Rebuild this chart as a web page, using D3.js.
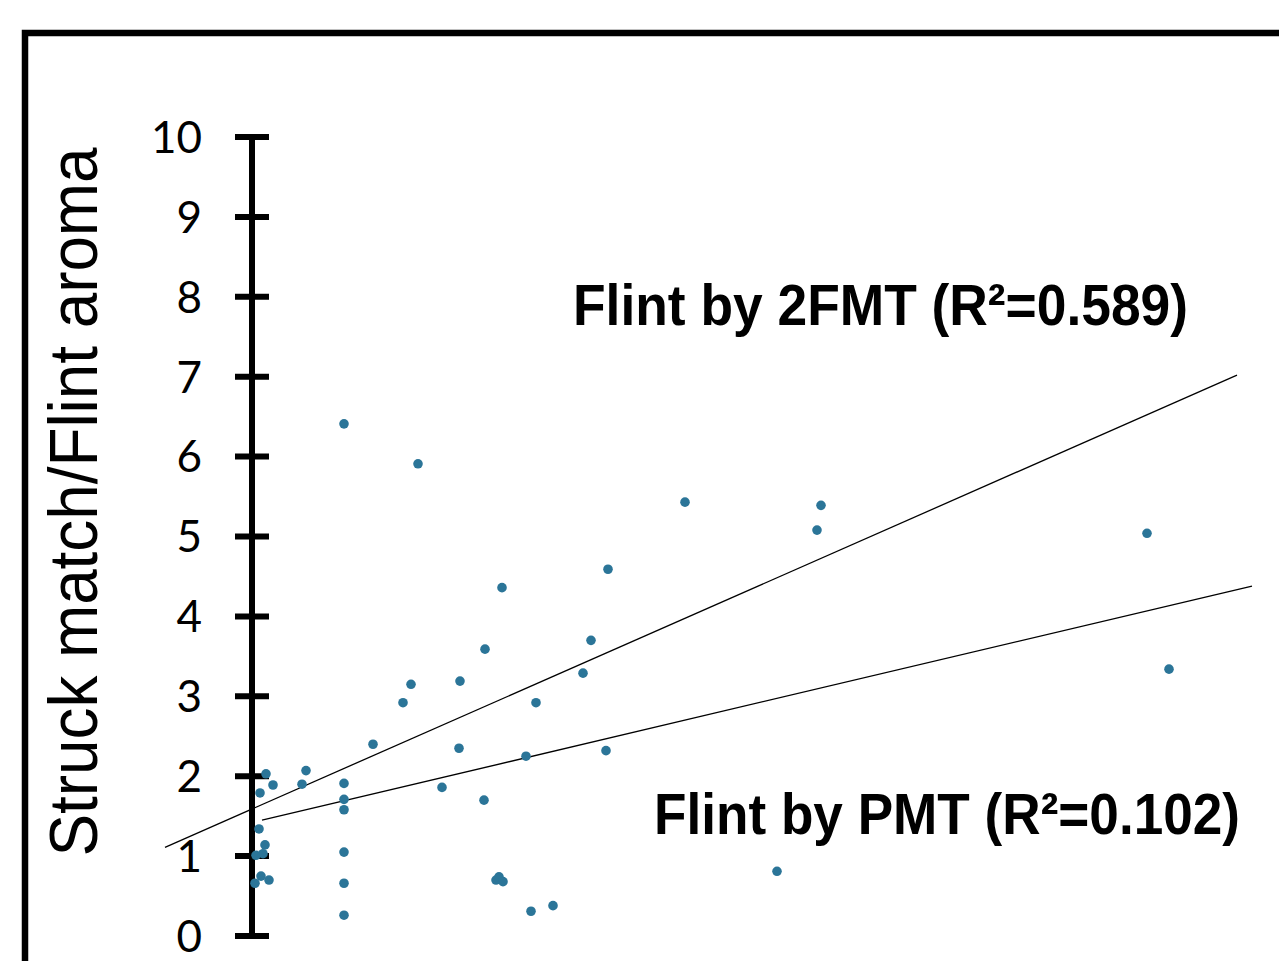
<!DOCTYPE html>
<html>
<head>
<meta charset="utf-8">
<script src="https://cdn.jsdelivr.net/npm/d3@7"></script>
<style>
  body { margin: 0; background: #fff; }
</style>
</head>
<body>
<div id="chart"></div>
<script>
// values (x in arbitrary units, y = aroma score)
const xVals = [9.2, 16.6, 43.3, 56.9, 56.5, 89.5, 35.6, 25.0, 33.9, 23.3,
               33.1, 15.9, 20.8, 91.7, 15.1, 28.4, 12.1, 20.7, 35.4, 27.4,
               1.4, 5.4, 2.1, 5.0, 9.2, 0.8, 19.0, 9.2, 23.2, 9.2,
               0.7, 1.3, 0.4, 1.1, 9.2, 0.9, 0.3, 1.7, 9.2, 24.4,
               24.7, 25.1, 52.5, 27.9, 30.1, 9.2];
const yVals = [6.41, 5.91, 5.43, 5.39, 5.08, 5.04, 4.59, 4.36, 3.70, 3.59,
               3.29, 3.15, 3.19, 3.34, 2.92, 2.92, 2.40, 2.35, 2.32, 2.25,
               2.03, 2.07, 1.89, 1.90, 1.91, 1.79, 1.86, 1.71, 1.70, 1.58,
               1.34, 1.14, 1.01, 1.03, 1.05, 0.75, 0.66, 0.70, 0.66, 0.70,
               0.74, 0.68, 0.81, 0.31, 0.38, 0.26];
const yTicks = [0, 1, 2, 3, 4, 5, 6, 7, 8, 9, 10];

// fitted lines, start and end points
const fit2FMT = [[-8.7, 1.11], [98.5, 7.02]];
const fitPMT = [[1.0, 1.45], [100, 4.38]];
const labels = ["Flint by 2FMT (R\u00b2=0.589)", "Flint by PMT (R\u00b2=0.102)"];

const width = 1279, height = 961;

const svg = d3.select("#chart")
    .append("svg")
    .attr("width", width)
    .attr("height", height);

// outer frame, runs off the right and bottom edges
svg.append("rect")
    .attr("x", 25)
    .attr("y", 33)
    .attr("width", 1400)
    .attr("height", 1100)
    .style("fill", "none")
    .style("stroke", "#000")
    .style("stroke-width", 6.5);

const x = d3.scaleLinear().domain([0, 100]).range([252, 1252]);
const y = d3.scaleLinear().domain([0, 10]).range([936, 137]);

// y axis: thick spine with crossing ticks
const axis = svg.append("g").attr("class", "y-axis");
axis.append("line")
    .attr("x1", x(0)).attr("x2", x(0))
    .attr("y1", y(10) - 3).attr("y2", y(0) + 3)
    .style("stroke", "#000")
    .style("stroke-width", 6);

axis.selectAll(".tick")
    .data(yTicks).enter()
    .append("line")
    .attr("class", "tick")
    .attr("x1", x(0) - 17).attr("x2", x(0) + 17)
    .attr("y1", d => y(d)).attr("y2", d => y(d))
    .style("stroke", "#000")
    .style("stroke-width", 6);

axis.selectAll(".tick-label")
    .data(yTicks).enter()
    .append("text")
    .attr("class", "tick-label")
    .attr("x", 202)
    .attr("y", d => y(d))
    .attr("dy", "0.36em")
    .attr("text-anchor", "end")
    .style("font-family", "Lato, 'Open Sans', sans-serif")
    .style("font-size", "44px")
    .text(d => d);

svg.append("text")
    .attr("transform", "translate(97," + 502 + ")rotate(-90)")
    .attr("text-anchor", "middle")
    .attr("textLength", 709)
    .attr("lengthAdjust", "spacingAndGlyphs")
    .style("font-family", "'Liberation Sans', Arial, sans-serif")
    .style("font-size", "68px")
    .text("Struck match/Flint aroma");

// trend lines
const line = d3.line().x(d => x(d[0])).y(d => y(d[1]));
svg.selectAll(".fit")
    .data([fit2FMT, fitPMT]).enter()
    .append("path")
    .attr("class", "fit")
    .attr("d", line)
    .style("fill", "none")
    .style("stroke", "#000")
    .style("stroke-width", 1.3);

// points
svg.append("g")
    .selectAll("circle")
    .data(xVals.map((v, i) => [v, yVals[i]])).enter()
    .append("circle")
    .attr("cx", d => x(d[0]))
    .attr("cy", d => y(d[1]))
    .attr("r", 4.8)
    .style("fill", "#2b7598");

// annotations
const notes = [
    {text: labels[0], x: 573, y: 325, len: 615},
    {text: labels[1], x: 654, y: 834, len: 586}
];
svg.selectAll(".note")
    .data(notes).enter()
    .append("text")
    .attr("class", "note")
    .attr("x", d => d.x)
    .attr("y", d => d.y)
    .attr("textLength", d => d.len)
    .attr("lengthAdjust", "spacingAndGlyphs")
    .style("font-family", "'Liberation Sans', Arial, sans-serif")
    .style("font-weight", "bold")
    .style("font-size", "58px")
    .text(d => d.text);
</script>
</body>
</html>
